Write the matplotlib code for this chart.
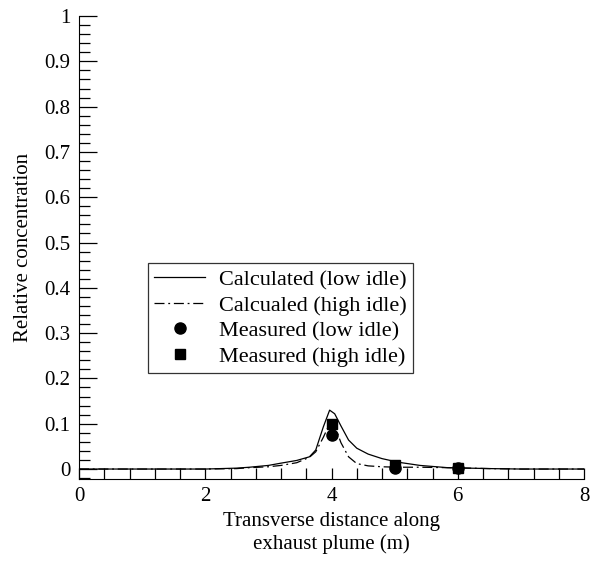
import numpy as np
import matplotlib.pyplot as plt
from matplotlib.ticker import MultipleLocator

# calculated profiles
x_calc = [0, 1.0, 2.0, 2.5, 2.7, 3.0, 3.2, 3.45, 3.65, 3.75, 3.87, 3.97, 4.05, 4.15, 4.27, 4.4, 4.58, 4.8, 5.06, 5.4, 5.84, 6.5, 7.0, 8.0]
y_low = [0.0, 0.0, 0.0, 0.002, 0.004, 0.008, 0.013, 0.019, 0.027, 0.042, 0.093, 0.13, 0.122, 0.095, 0.064, 0.046, 0.033, 0.023, 0.015, 0.008, 0.003, 0.001, 0.0, 0.0]
y_high = [0.0, 0.0, 0.0, 0.001, 0.003, 0.005, 0.008, 0.014, 0.026, 0.038, 0.07, 0.1, 0.095, 0.058, 0.027, 0.012, 0.007, 0.005, 0.004, 0.004, 0.003, 0.001, 0.0, 0.0]

# measurements
x_meas = [4, 5, 6]
meas_low = [0.075, 0.002, 0.002]
meas_high = [0.1, 0.009, 0.003]

plt.rcParams['font.family'] = ['Liberation Serif', 'DejaVu Serif']

fig = plt.figure(figsize=(5.91, 5.66), dpi=100)
ax = fig.add_axes([0.1337, 0.1537, 0.8545, 0.818])

ax.plot(x_calc, y_low, color='k', linewidth=0.9, label='Calculated (low idle)')
ax.plot(x_calc, y_high, color='k', linewidth=0.9, linestyle=(0, (8, 3, 1.5, 3)),
        label='Calcualed (high idle)')
ax.plot(x_meas, meas_low, 'o', color='k', markersize=8, label='Measured (low idle)')
ax.plot(x_meas, meas_high, 's', color='k', markersize=6.5, label='Measured (high idle)')

ax.set_xlim(0, 8)
ax.set_ylim(-0.022, 1)
ax.spines['top'].set_visible(False)
ax.spines['right'].set_visible(False)

ax.set_xticks([0, 2, 4, 6, 8])
ax.xaxis.set_minor_locator(MultipleLocator(0.4))
ax.set_yticks(np.arange(0, 1.01, 0.1))
ax.set_yticklabels(['0', '0.1', '0.2', '0.3', '0.4', '0.5', '0.6', '0.7', '0.8', '0.9', '1'])
ax.yaxis.set_minor_locator(MultipleLocator(0.02))
ax.tick_params(axis='both', which='both', direction='in', labelsize=15, width=0.9)
ax.tick_params(axis='y', which='major', length=13, pad=6)
ax.tick_params(axis='y', which='minor', length=8)
ax.tick_params(axis='x', which='both', length=8, pad=6)

ax.set_xlabel('Transverse distance along\nexhaust plume (m)', fontsize=15, linespacing=1.2)
ax.set_ylabel('Relative concentration', fontsize=15, labelpad=8)

leg = ax.legend(loc='upper left', bbox_to_anchor=(0.136, 0.4665), fontsize=16,
                frameon=True, fancybox=False, edgecolor='k', handlelength=2.3,
                borderpad=0.3, labelspacing=0.22, handletextpad=0.6,
                borderaxespad=0)
leg.get_frame().set_linewidth(0.9)

fig.savefig('out.png', dpi=100)
